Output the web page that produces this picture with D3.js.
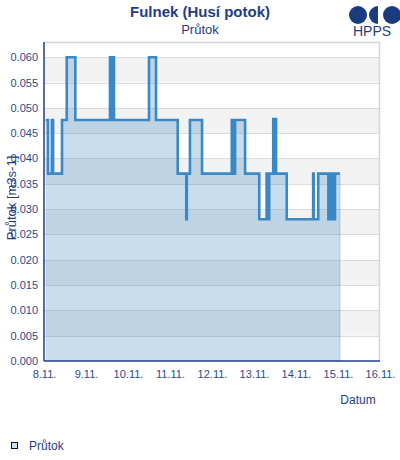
<!DOCTYPE html>
<html><head><meta charset="utf-8">
<script src="https://cdn.jsdelivr.net/npm/d3@7"></script>
<style>body{margin:0;background:#fff;}svg{display:block;font-family:Arial,"Liberation Sans",sans-serif;}</style>
</head><body>
<svg id="c" width="400" height="460"></svg>
<script>
const title = "Fulnek (Husí potok)";
const subtitle = "Průtok";
const yTitle = "Průtok [m3s-1]";
const xTitle = "Datum";
const seriesName = "Průtok";
const times = ["2024-11-08T01:00","2024-11-08T02:18","2024-11-08T04:30","2024-11-08T05:12","2024-11-08T10:18","2024-11-08T13:00","2024-11-08T17:54",
"2024-11-09T13:42","2024-11-09T14:36","2024-11-09T15:00","2024-11-09T16:00","2024-11-10T12:00","2024-11-10T16:00",
"2024-11-11T04:24","2024-11-11T09:18","2024-11-11T09:36","2024-11-11T11:24","2024-11-11T18:18",
"2024-11-12T11:18","2024-11-12T11:48","2024-11-12T12:18","2024-11-12T12:48","2024-11-12T13:12","2024-11-12T18:54",
"2024-11-13T03:00","2024-11-13T07:12","2024-11-13T07:30","2024-11-13T08:42","2024-11-13T11:00","2024-11-13T11:30","2024-11-13T12:00","2024-11-13T12:36","2024-11-13T18:42",
"2024-11-14T09:48","2024-11-14T10:06","2024-11-14T12:42","2024-11-14T18:30","2024-11-14T19:00","2024-11-14T19:30","2024-11-14T20:00","2024-11-14T20:30","2024-11-14T21:00","2024-11-14T21:30","2024-11-14T22:18",
"2024-11-15T01:06"];
const values = [0.0476,0.037,0.0476,0.037,0.0476,0.060,0.0476,
0.060,0.0476,0.060,0.0476,0.060,0.0476,
0.037,0.028,0.037,0.0476,0.037,
0.0476,0.037,0.0476,0.037,0.0476,0.037,
0.028,0.037,0.028,0.037,0.0478,0.037,0.0478,0.037,0.028,
0.037,0.028,0.037,0.028,0.037,0.028,0.037,0.028,0.037,0.028,0.037,
0.037];
const xTickLabels = ["8.11.","9.11.","10.11.","11.11.","12.11.","13.11.","14.11.","15.11.","16.11."];
const yTicks = [0,0.005,0.010,0.015,0.020,0.025,0.030,0.035,0.040,0.045,0.050,0.055,0.060];

const parse = d3.isoParse;
const data = times.map((t,i)=>({t:parse(t), v:values[i]}));
const svg = d3.select("#c");
const L=44, R=380, T=42, B=361;
const x = d3.scaleTime().domain([parse("2024-11-08T00:00"), parse("2024-11-16T00:00")]).range([L,R]);
const y = d3.scaleLinear().domain([0,0.063]).range([B,T]);
const navy = "#1f3d85", tickCol="#2b4a8a";

// bands
const g = svg.append("g");
yTicks.slice(0,-1).forEach((v,i)=>{
  if(i%2===1) g.append("rect").attr("x",L).attr("y",y(yTicks[i+1])).attr("width",R-L).attr("height",y(v)-y(yTicks[i+1])).attr("fill","#f2f2f2");
});
yTicks.forEach(v=>{ if(v>0) g.append("line").attr("x1",L).attr("x2",R).attr("y1",Math.round(y(v))+0.5).attr("y2",Math.round(y(v))+0.5).attr("stroke","#dcdcdc");});
// border top/right
g.append("path").attr("d",`M${L},${T+0.5}H${R-0.5}V${B}`).attr("fill","none").attr("stroke","#d6d6d6").attr("stroke-width",1.5);

// area & line
const area = d3.area().x(d=>x(d.t)).y0(y(0)).y1(d=>y(d.v)).curve(d3.curveStepAfter);
const line = d3.line().x(d=>x(d.t)).y(d=>y(d.v)).curve(d3.curveStepAfter);
svg.append("path").datum(data).attr("d",area).attr("fill","rgba(58,135,196,0.28)");
svg.append("line").attr("x1",x(data[data.length-1].t)).attr("x2",x(data[data.length-1].t)).attr("y1",y(data[data.length-1].v)).attr("y2",B).attr("stroke","rgba(58,135,196,0.35)");
svg.append("path").datum(data).attr("d",line).attr("fill","none").attr("stroke","#3a88c6").attr("stroke-width",2.6);

// axes
const yAxis = d3.axisLeft(y).tickValues(yTicks).tickFormat(d3.format(".3f")).tickSize(0).tickPadding(6);
const ya = svg.append("g").attr("transform",`translate(${L},0)`).call(yAxis);
ya.select(".domain").remove();
ya.selectAll("text").attr("fill",tickCol).style("font-size","11px").style("font-family","Arial,'Liberation Sans',sans-serif");
const xTickDates = xTickLabels.map((s,i)=>d3.timeDay.offset(parse("2024-11-08T00:00"),i));
const xAxis = d3.axisBottom(x).tickValues(xTickDates).tickFormat((d,i)=>xTickLabels[i]).tickSize(0).tickPadding(9);
const xa = svg.append("g").attr("transform",`translate(0,${B})`).call(xAxis);
xa.select(".domain").remove();
xa.selectAll("text").attr("fill",tickCol).style("font-size","11px").style("font-family","Arial,'Liberation Sans',sans-serif");
svg.append("line").attr("x1",L).attr("x2",L).attr("y1",T).attr("y2",B).attr("stroke",navy).attr("stroke-width",1.5);
svg.append("line").attr("x1",L).attr("x2",R).attr("y1",B).attr("y2",B).attr("stroke",navy).attr("stroke-width",1.5);

// titles
svg.append("text").attr("x",200).attr("y",17).attr("text-anchor","middle").attr("fill",navy).style("font-size","15px").style("font-weight","bold").text(title);
svg.append("text").attr("x",200).attr("y",34).attr("text-anchor","middle").attr("fill",navy).style("font-size","13px").text(subtitle);
svg.append("text").attr("transform","translate(16,198) rotate(-90)").attr("text-anchor","middle").attr("fill",navy).style("font-size","13px").text(yTitle);
svg.append("text").attr("x",358).attr("y",404).attr("text-anchor","middle").attr("fill",navy).style("font-size","12px").text(xTitle);

// logo
const lg = svg.append("g").attr("fill","#1a3b7f");
lg.append("circle").attr("cx",358).attr("cy",15).attr("r",9);
lg.append("path").attr("d","M378,6 A9,9 0 0 0 378,24 Z");
lg.append("circle").attr("cx",392).attr("cy",15).attr("r",9);
svg.append("text").attr("x",372).attr("y",36).attr("text-anchor","middle").attr("fill",navy).style("font-size","14px").text("HPPS");

// legend
svg.append("rect").attr("x",11.5).attr("y",442.5).attr("width",6).attr("height",6).attr("fill","#c8def2").attr("stroke","#111").attr("stroke-width",1);
svg.append("text").attr("x",29).attr("y",450).attr("fill",navy).style("font-size","12px").text(seriesName);
</script>
</body></html>
